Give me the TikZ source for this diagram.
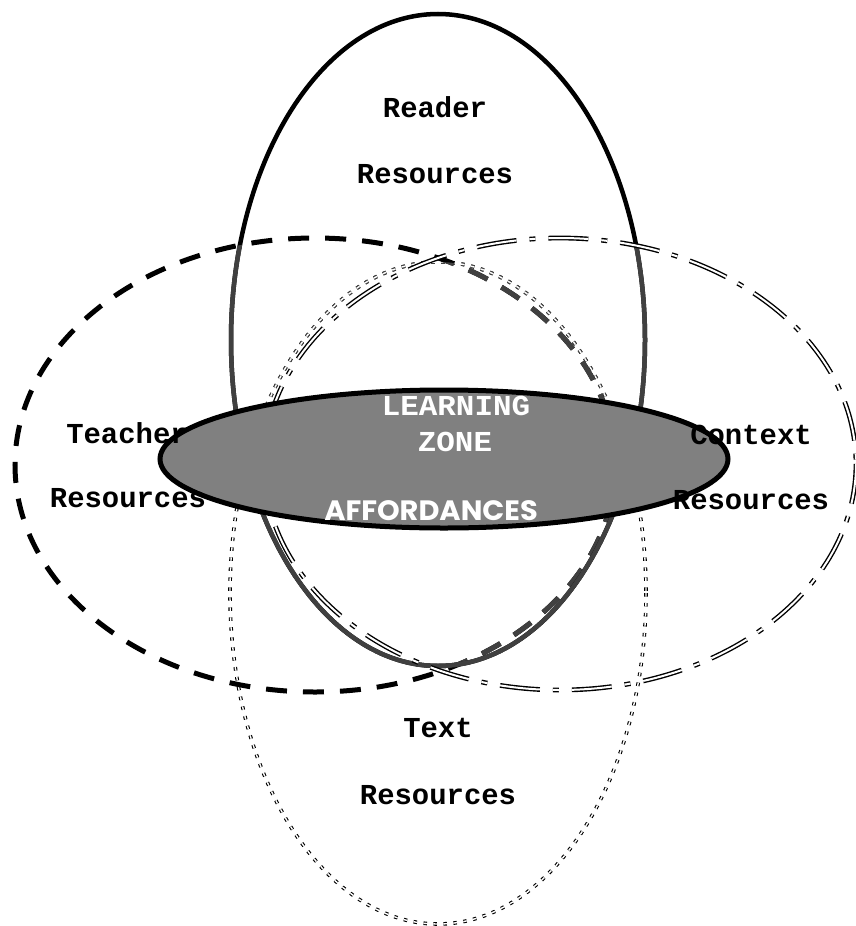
\documentclass[tikz,border=0pt]{standalone}
\usepackage{fontspec}
\setmonofont{Liberation Mono}
\newfontfamily\decofont{Poppins}
\definecolor{lzgray}{HTML}{808080}
\definecolor{lngray}{HTML}{404040}
\tikzset{
  readerline/.style={line width=4.5pt},
  teacherline/.style={line width=5pt, dash pattern=on 21pt off 16pt},
  contextline/.style={line width=1.4pt, double=white, double distance=2pt, dash pattern=on 40pt off 13pt on 6pt off 13pt},
  textline/.style={line width=1.1pt, double=white, double distance=1.4pt, dash pattern=on 3.5pt off 6.5pt},
  lbl/.style={font=\fontsize{28.9}{30}\selectfont\ttfamily\bfseries, inner sep=0pt},
  wlbl/.style={font=\fontsize{28.9}{30}\selectfont\ttfamily\bfseries, text=white, inner sep=0pt, xscale=1.07},
}
\begin{document}
\begin{tikzpicture}[x=1pt,y=-1pt]
\useasboundingbox (0,0) rectangle (855,926);
% Text resources ellipse
\draw[textline] (438,593) ellipse [x radius=208, y radius=331];
\begin{scope}
  \clip (438,340) ellipse [x radius=207, y radius=326];
  \draw[textline, lngray] (438,593) ellipse [x radius=208, y radius=331];
\end{scope}
% Teacher resources ellipse
\draw[teacherline] (315,465) ellipse [x radius=300, y radius=227];
\begin{scope}
  \clip (438,340) ellipse [x radius=207, y radius=326];
  \clip (438,593) ellipse [x radius=208, y radius=331];
  \draw[teacherline, lngray] (315,465) ellipse [x radius=300, y radius=227];
\end{scope}
% Reader resources ellipse
\draw[readerline] (438,340) ellipse [x radius=207, y radius=326];
\begin{scope}
  \clip (315,465) ellipse [x radius=300, y radius=227];
  \draw[readerline, lngray] (438,340) ellipse [x radius=207, y radius=326];
\end{scope}
\begin{scope}
  \clip (560,464) ellipse [x radius=296, y radius=226];
  \draw[readerline, lngray] (438,340) ellipse [x radius=207, y radius=326];
\end{scope}
% Context resources ellipse
\draw[contextline] (560,464) ellipse [x radius=296, y radius=226];
% Learning zone
\draw[line width=5pt, fill=lzgray] (444,459) ellipse [x radius=284, y radius=69];
% Labels
\node[lbl] (reader1) at (435,107) {Reader};
\node[lbl] (reader2) at (435,174) {Resources};
\node[lbl] (teacher1) at (127,433) {Teacher};
\node[lbl] (teacher2) at (128,498) {Resources};
\node[lbl] (context1) at (751,435) {Context};
\node[lbl] (context2) at (751,500) {Resources};
\node[lbl] (text1) at (438,728) {Text};
\node[lbl] (text2) at (438,795) {Resources};
\node[wlbl] (lz1) at (456,406) {LEARNING};
\node[wlbl] (lz2) at (455,442) {ZONE};
\node[font=\fontsize{28}{29}\selectfont\decofont\bfseries, text=white, inner sep=0pt, xscale=1.03] (aff) at (431,511) {AFFORDANCES};
\end{tikzpicture}
\end{document}
